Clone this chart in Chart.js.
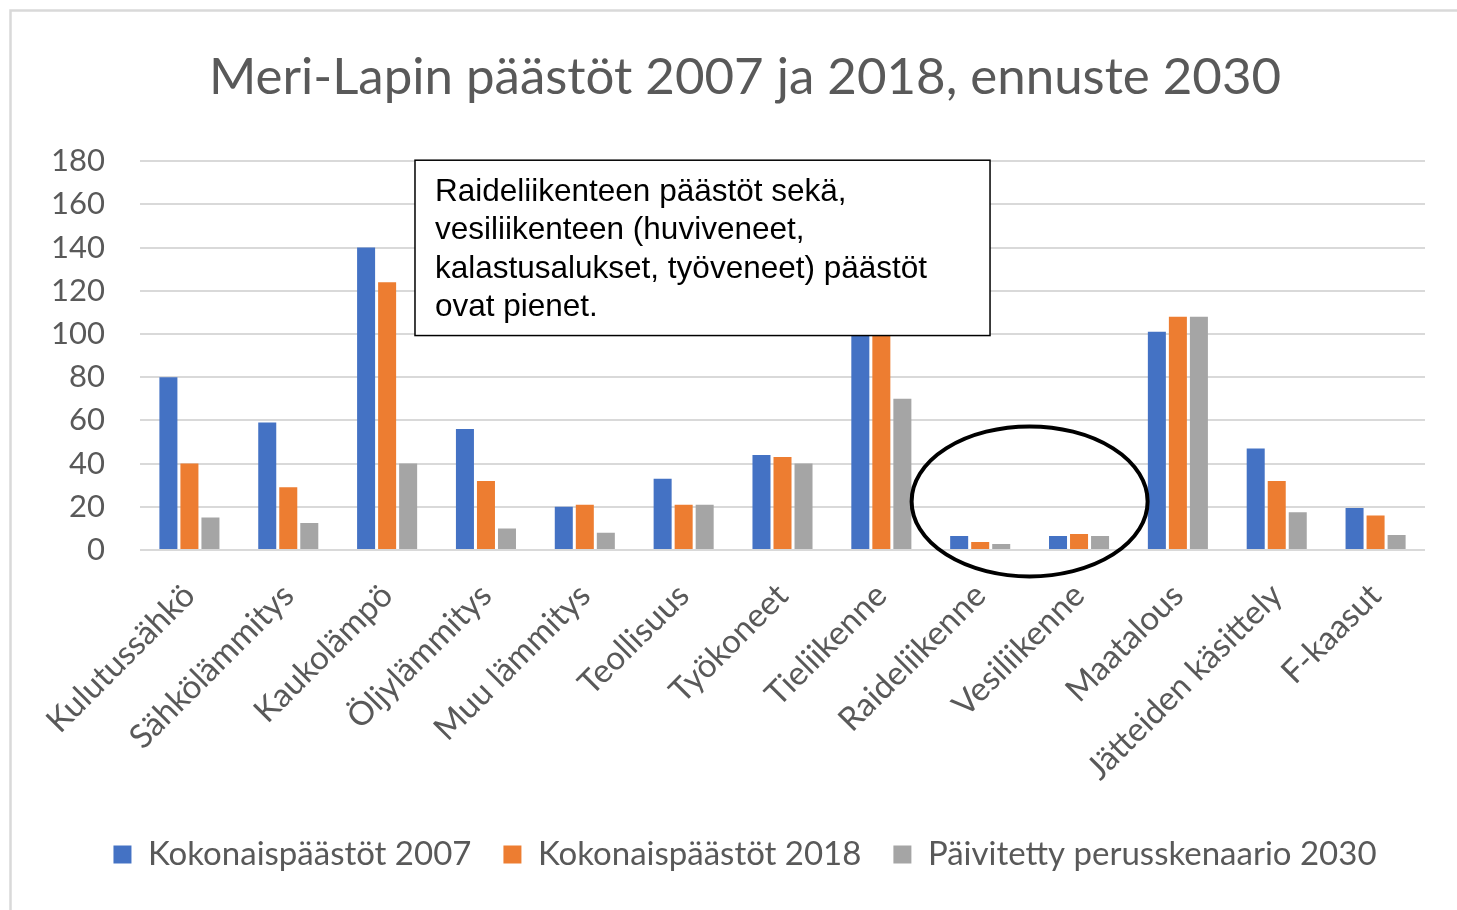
<!DOCTYPE html>
<html>
<head>
<meta charset="utf-8">
<script src="https://cdn.jsdelivr.net/npm/chart.js@4/dist/chart.umd.min.js"></script>
<style>
html,body{margin:0;padding:0;background:#fff;}
#wrap{width:1457px;height:910px;position:relative;}
</style>
</head>
<body>
<div id="wrap"><canvas id="c" width="1457" height="910"></canvas></div>
<script>
const titleText = 'Meri-Lapin päästöt 2007 ja 2018, ennuste 2030';
const categories = ['Kulutussähkö','Sähkölämmitys','Kaukolämpö','Öljylämmitys','Muu lämmitys','Teollisuus','Työkoneet','Tieliikenne','Raideliikenne','Vesiliikenne','Maatalous','Jätteiden käsittely','F-kaasut'];
const seriesNames = ['Kokonaispäästöt 2007','Kokonaispäästöt 2018','Päivitetty perusskenaario 2030'];
const emissions2007 = [80, 59, 140, 56, 20, 33, 44, 116, 6.5, 6.5, 101, 47, 19.5];
const emissions2018 = [40, 29, 124, 32, 21, 21, 43, 106, 3.7, 7.4, 108, 32, 16];
const scenario2030 = [15, 12.5, 40, 10, 8, 21, 40, 70, 2.8, 6.5, 108, 17.5, 7];
const yTicks = [0, 20, 40, 60, 80, 100, 120, 140, 160, 180];
const noteLines = ['Raideliikenteen päästöt sekä,','vesiliikenteen (huviveneet,','kalastusalukset, työveneet) päästöt','ovat pienet.'];

const colors = ['#4472C4','#ED7D31','#A5A5A5'];
const textGray = '#595959';
const FONT = 'Lato, "Open Sans", sans-serif';

const decor = {
  id: 'decor',
  beforeDraw(chart) {
    const ctx = chart.ctx;
    ctx.save();
    ctx.fillStyle = '#fff';
    ctx.fillRect(0, 0, chart.width, chart.height);
    ctx.strokeStyle = '#D9D9D9';
    ctx.lineWidth = 2.5;
    ctx.beginPath();
    ctx.moveTo(10.5, chart.height + 5);
    ctx.lineTo(10.5, 10.5);
    ctx.lineTo(chart.width + 5, 10.5);
    ctx.stroke();
    ctx.restore();
  },
  afterDraw(chart) {
    const ctx = chart.ctx;
    const a = chart.chartArea;
    const w = a.right - a.left, h = a.bottom - a.top;
    ctx.save();
    // note box
    const bx = a.left + w * 0.2140, by = a.top - 1;
    const bw = w * 0.4475, bh = h * 0.451;
    ctx.fillStyle = '#fff';
    ctx.fillRect(bx, by, bw, bh);
    ctx.strokeStyle = '#000';
    ctx.lineWidth = 1.5;
    ctx.strokeRect(bx, by, bw, bh);
    ctx.fillStyle = '#000';
    ctx.font = '31.5px "Liberation Sans", Arial, sans-serif';
    ctx.textBaseline = 'middle';
    ctx.textAlign = 'left';
    noteLines.forEach((t, i) => ctx.fillText(t, bx + 20, by + 32 + i * 38.5));
    // ellipse
    const x = chart.scales.x, y = chart.scales.y;
    const cx = (x.getPixelForValue(8) + x.getPixelForValue(9)) / 2;
    const cy = y.getPixelForValue(22.5);
    ctx.strokeStyle = '#000';
    ctx.lineWidth = 4;
    ctx.beginPath();
    ctx.ellipse(cx, cy, 118, 75, 0, 0, Math.PI * 2);
    ctx.stroke();
    ctx.restore();
  }
};

new Chart(document.getElementById('c'), {
  type: 'bar',
  data: {
    labels: categories,
    datasets: [
      { label: seriesNames[0], data: emissions2007, backgroundColor: colors[0] },
      { label: seriesNames[1], data: emissions2018, backgroundColor: colors[1] },
      { label: seriesNames[2], data: scenario2030, backgroundColor: colors[2] }
    ]
  },
  options: {
    responsive: false,
    animation: false,
    devicePixelRatio: 1,
    layout: { padding: { top: 10, left: 43, right: 10, bottom: 29 } },
    datasets: { bar: { categoryPercentage: 0.638, barPercentage: 0.857 } },
    plugins: {
      title: {
        display: true, text: titleText, color: textGray,
        font: { family: FONT, size: 51, weight: 'normal', lineHeight: 1.2 },
        padding: { top: 37, bottom: 53 }
      },
      legend: {
        position: 'bottom',
        labels: {
          color: textGray, font: { family: FONT, size: 33 },
          boxWidth: 18, boxHeight: 18, padding: 32
        }
      },
      tooltip: { enabled: false }
    },
    scales: {
      x: {
        grid: { display: false },
        border: { display: false },
        ticks: {
          color: textGray, font: { family: FONT, size: 33 },
          maxRotation: 45, minRotation: 45, padding: 18, autoSkip: false
        },
        afterFit(s) { s.height = 256; }
      },
      y: {
        min: 0, max: 180,
        grid: { color: '#D9D9D9', lineWidth: 2, drawTicks: false },
        border: { display: false },
        afterBuildTicks(s) { s.ticks = yTicks.map(v => ({ value: v })); },
        ticks: { color: textGray, font: { family: FONT, size: 31 }, padding: 35 },
        afterFit(s) { s.width = 97; }
      },
      y2: {
        position: 'right', display: true,
        grid: { display: false, drawTicks: false }, border: { display: false },
        ticks: { display: false },
        afterFit(s) { s.width = 22; }
      }
    }
  },
  plugins: [decor]
});
</script>
</body>
</html>
